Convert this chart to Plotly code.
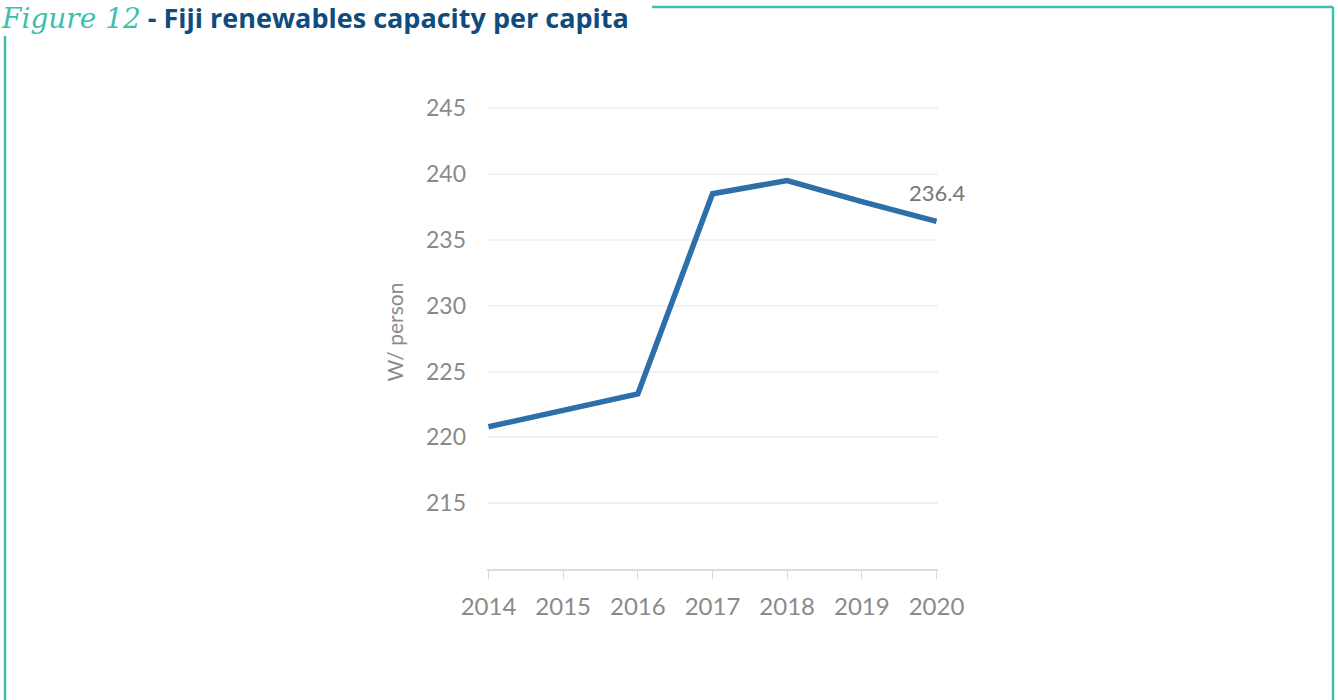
import plotly.graph_objects as go

# Fiji renewables capacity per capita (W/person)
years = [2014, 2015, 2016, 2017, 2018, 2019, 2020]
capacity = [220.8, 222.0, 223.3, 238.5, 239.5, 237.9, 236.4]
y_ticks = [215, 220, 225, 230, 235, 240, 245]

W, H = 1338, 700
L, R, T, B = 487, 400, 95, 131
PW, PH = W - L - R, H - T - B

def px(x):
    return (x - L) / PW

def py(y):
    return 1 - (y - T) / PH

TEAL = "#3dbfae"
NAVY = "#0f4c7d"
GREY = "#8a8a8a"

fig = go.Figure()
fig.add_trace(go.Scatter(
    x=years, y=capacity, mode="lines",
    line=dict(color="#2d6fa8", width=5.5),
    hoverinfo="skip", showlegend=False,
))

fig.add_annotation(
    x=years[-1], y=capacity[-1], text=f"{capacity[-1]}",
    showarrow=False, xanchor="center", yanchor="bottom", yshift=13, xshift=0,
    font=dict(family="Lato", size=22, color="#777777"),
)

# figure heading
fig.add_annotation(
    xref="paper", yref="paper", x=px(-1), y=py(-3), xanchor="left", yanchor="top",
    text=("<span style='font-family:DejaVu Serif;font-style:italic;color:%s;font-size:28px'>Figure 12</span>"
          "<span style='font-family:Open Sans;font-weight:bold;color:%s;font-size:27px'> - Fiji renewables capacity per capita</span>")
         % (TEAL, NAVY),
    showarrow=False,
)

# frame lines
fig.add_shape(type="line", xref="paper", yref="paper", x0=px(652), x1=px(1333), y0=py(7), y1=py(7),
              line=dict(color=TEAL, width=2.5))
fig.add_shape(type="line", xref="paper", yref="paper", x0=px(1333), x1=px(1333), y0=py(7), y1=py(700),
              line=dict(color=TEAL, width=2.5))
fig.add_shape(type="line", xref="paper", yref="paper", x0=px(5), x1=px(5), y0=py(36), y1=py(700),
              line=dict(color=TEAL, width=2.5))

fig.update_layout(
    width=W, height=H,
    margin=dict(l=L, r=R, t=T, b=B),
    paper_bgcolor="white", plot_bgcolor="white",
    xaxis=dict(
        range=[2013.98, 2020.02], tickvals=years, ticktext=[str(y) for y in years],
        showgrid=False, zeroline=False,
        showline=True, linecolor="#dcdcdc", linewidth=1.5,
        ticks="outside", ticklen=8, tickcolor="#dcdcdc",
        ticklabelstandoff=7,
        tickfont=dict(family="Lato", size=24, color=GREY),
    ),
    yaxis=dict(
        range=[210, 246], tickvals=y_ticks,
        showgrid=True, gridcolor="#f2f2f2", gridwidth=2, zeroline=False,
        showline=False, ticks="", ticklabelstandoff=20,
        tickfont=dict(family="Lato", size=23, color=GREY),
        title=dict(text="W/ person", standoff=16, font=dict(family="Lato", size=21, color=GREY)),
    ),
)

fig.write_html("out.html")
